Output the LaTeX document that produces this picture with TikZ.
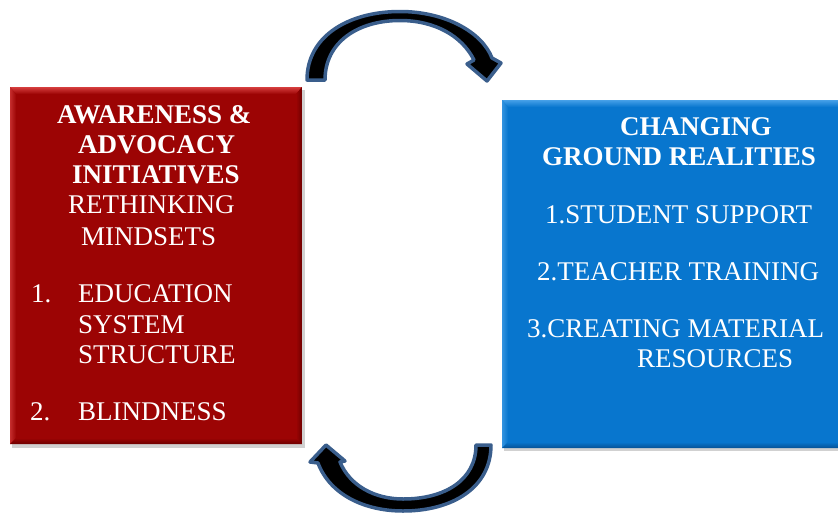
\documentclass[tikz,border=0pt]{standalone}
\usepackage{fontspec}
\setmainfont{Liberation Serif}
\begin{document}
\begin{tikzpicture}[x=1pt,y=-1pt,
  panel/.style={inner sep=0pt, outer sep=0pt},
  txt/.style={anchor=base west, inner sep=0pt, text=white,
    font=\fontsize{27}{30}\selectfont},
  btxt/.style={txt, font=\fontsize{27}{30}\selectfont\bfseries},
  cyclearrow/.style={fill=black, draw=arrowedge, line width=3.5pt, line join=round}]
\definecolor{redfill}{RGB}{156,4,4}
\definecolor{redlight}{RGB}{214,62,62}
\definecolor{reddark}{RGB}{110,0,0}
\definecolor{bluefill}{RGB}{8,118,206}
\definecolor{bluelight}{RGB}{70,160,232}
\definecolor{bluedark}{RGB}{6,82,150}
\definecolor{arrowedge}{RGB}{58,94,140}

\useasboundingbox (0,0) rectangle (838,517);

% left panel with bevelled edges
\fill[black!18] (12,90) rectangle (305,448);
\node[panel, fill=redfill, minimum width=292pt, minimum height=357pt, anchor=north west] (left) at (10,87) {};
\shade[top color=redlight, bottom color=redfill] (10,87) -- (302,87) -- (296,94) -- (16,94) -- cycle;
\shade[left color=redlight!70!redfill, right color=redfill] (10,87) -- (16,94) -- (16,438) -- (10,444) -- cycle;
\shade[top color=redfill, bottom color=reddark] (10,444) -- (16,438) -- (296,438) -- (302,444) -- cycle;
\shade[left color=redfill, right color=reddark] (302,87) -- (296,94) -- (296,438) -- (302,444) -- cycle;

% right panel with bevelled edges
\fill[black!18] (504,102) rectangle (838,451);
\node[panel, fill=bluefill, minimum width=336pt, minimum height=348pt, anchor=north west] (right) at (502,100) {};
\shade[top color=bluelight, bottom color=bluefill] (502,100) -- (838,100) -- (838,107) -- (508,107) -- cycle;
\shade[left color=bluelight!70!bluefill, right color=bluefill] (502,100) -- (508,107) -- (508,442) -- (502,448) -- cycle;
\shade[top color=bluefill, bottom color=bluedark] (502,448) -- (508,442) -- (838,442) -- (838,448) -- cycle;

% left panel text
\node[btxt] (l1) at (57,123) {AWARENESS \&};
\node[btxt] (l2) at (78,153) {ADVOCACY};
\node[btxt] (l3) at (72,183) {INITIATIVES};
\node[txt] (l4) at (68,213) {RETHINKING};
\node[txt] (l5) at (81,245) {MINDSETS};
\node[txt] (n1) at (31,302) {1.};
\node[txt] (l6) at (78,302) {EDUCATION};
\node[txt] (l7) at (78,333) {SYSTEM};
\node[txt] (l8) at (78,363) {STRUCTURE};
\node[txt] (n2) at (30,420) {2.};
\node[txt] (l9) at (78,420) {BLINDNESS};

% right panel text
\node[btxt] (r1) at (620,135) {CHANGING};
\node[btxt] (r2) at (542,165) {GROUND REALITIES};
\node[txt] (r3) at (545,223) {1.STUDENT SUPPORT};
\node[txt] (r4) at (537,280) {2.TEACHER TRAINING};
\node[txt] (r5) at (527,337) {3.CREATING MATERIAL};
\node[txt] (r6) at (637,367) {RESOURCES};

% upper curved arrow, left panel to right panel
\coordinate (ua) at (307,80);
\coordinate (ub) at (325,80);
\filldraw[cyclearrow] (ua)
  .. controls (307,35) and (350,11.5) .. (400,11.5)
  .. controls (445,11.5) and (482,32) .. (492,58)
  -- (501,63) -- (487,81) -- (467,64) -- (474,60)
  .. controls (462,36) and (435,20.5) .. (400,20.5)
  .. controls (358,20.5) and (325,42) .. (ub) -- cycle;

% lower curved arrow, right panel back to left panel
\coordinate (da) at (491,445);
\coordinate (db) at (476,445);
\filldraw[cyclearrow] (db)
  .. controls (476,480) and (445,499) .. (403,499)
  .. controls (375,499) and (350,486) .. (340,462)
  -- (345,461) -- (326,445) -- (310,462) -- (318,463)
  .. controls (330,495) and (365,511) .. (403,511)
  .. controls (452,511) and (491,488) .. (da) -- cycle;
\end{tikzpicture}
\end{document}
